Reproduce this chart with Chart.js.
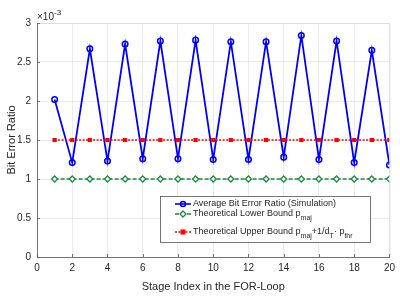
<!DOCTYPE html>
<html>
<head>
<meta charset="utf-8">
<script src="https://cdn.jsdelivr.net/npm/chart.js@4/dist/chart.umd.min.js"></script>
<style>
    html, body { margin: 0; padding: 0; background: #fff; }
    #wrap { width: 400px; height: 300px; }
</style>
</head>
<body>
<div id="wrap"><canvas id="berChart" width="400" height="300"></canvas></div>
<script>
// DATA (values in units of 1e-3)
const stages = [1, 2, 3, 4, 5, 6, 7, 8, 9, 10, 11, 12, 13, 14, 15, 16, 17, 18, 19, 20];
const avgBer = [2.02, 1.21, 2.67, 1.23, 2.73, 1.26, 2.77, 1.26, 2.78, 1.25,
                2.76, 1.25, 2.76, 1.28, 2.84, 1.25, 2.77, 1.21, 2.65, 1.18];
const lowerBound = [1, 1, 1, 1, 1, 1, 1, 1, 1, 1, 1, 1, 1, 1, 1, 1, 1, 1, 1, 1];
const upperBound = [1.5, 1.5, 1.5, 1.5, 1.5, 1.5, 1.5, 1.5, 1.5, 1.5,
                    1.5, 1.5, 1.5, 1.5, 1.5, 1.5, 1.5, 1.5, 1.5, 1.5];
const xTicks = [0, 2, 4, 6, 8, 10, 12, 14, 16, 18, 20];
const yTicks = [0, 0.5, 1, 1.5, 2, 2.5, 3];

const FONT = "'Liberation Sans', Arial, sans-serif";
const TXT = "#262626";
const BLUE = "#0000ff";
const GREEN = "#1c8a3a";
const RED = "#ff0000";

function toXY(vals) {
    return stages.map((s, i) => ({ x: s, y: vals[i] }));
}

// draws text with subscripts, parts = [[text, isSub], ...]
function drawRich(ctx, x, y, parts, size) {
    parts.forEach(p => {
        ctx.font = (p[1] ? size - 2 : size) + "px " + FONT;
        ctx.fillText(p[0], x, p[1] ? y + 4 : y);
        x += ctx.measureText(p[0]).width;
    });
}

// MATLAB style extras: axes, tick marks, exponent, axis titles, legend
const extras = {
    id: "extras",
    afterDraw(chart) {
        const ctx = chart.ctx;
        const a = chart.chartArea;
        const xs = chart.scales.x, ys = chart.scales.y;
        ctx.save();

        // light box on top/right
        ctx.strokeStyle = "#d9d9d9";
        ctx.lineWidth = 0.8;
        ctx.beginPath();
        ctx.moveTo(a.left, a.top + 0.5); ctx.lineTo(a.right + 0.5, a.top + 0.5);
        ctx.lineTo(a.right + 0.5, a.bottom);
        ctx.stroke();

        // dark left/bottom axes
        ctx.strokeStyle = "#555";
        ctx.beginPath();
        ctx.moveTo(a.left + 0.5, a.top); ctx.lineTo(a.left + 0.5, a.bottom + 0.5);
        ctx.lineTo(a.right + 0.5, a.bottom + 0.5);
        // inward tick marks
        xTicks.forEach(v => {
            const px = Math.round(xs.getPixelForValue(v)) + 0.5;
            ctx.moveTo(px, a.bottom); ctx.lineTo(px, a.bottom - 3);
        });
        yTicks.forEach(v => {
            const py = Math.round(ys.getPixelForValue(v)) + 0.5;
            ctx.moveTo(a.left, py); ctx.lineTo(a.left + 3, py);
        });
        ctx.stroke();

        // exponent label
        ctx.fillStyle = TXT;
        ctx.textBaseline = "alphabetic";
        ctx.textAlign = "left";
        ctx.font = "10px " + FONT;
        ctx.fillText("\u00d710", a.left, a.top - 3);
        ctx.font = "8px " + FONT;
        ctx.fillText("-3", a.left + 17, a.top - 8);

        // axis titles
        ctx.font = "11px " + FONT;
        ctx.textAlign = "center";
        ctx.fillText("Stage Index in the FOR-Loop", (a.left + a.right) / 2, 290);
        ctx.save();
        ctx.translate(15, (a.top + a.bottom) / 2);
        ctx.rotate(-Math.PI / 2);
        ctx.fillText("Bit Error Ratio", 0, 0);
        ctx.restore();

        // legend
        const lx = 160, ly = 196, lw = 210, lh = 46;
        ctx.fillStyle = "#fff";
        ctx.fillRect(lx, ly, lw, lh);
        ctx.strokeStyle = "#555";
        ctx.lineWidth = 0.8;
        ctx.strokeRect(lx + 0.5, ly + 0.5, lw, lh);

        const rows = [
            { y: 204, color: BLUE, dash: [], marker: "circle",
              parts: [["Average Bit Error Ratio (Simulation)", false]] },
            { y: 214, color: GREEN, dash: [4, 2], marker: "diamond",
              parts: [["Theoretical Lower Bound p", false], ["maj", true]] },
            { y: 232, color: RED, dash: [2, 1.5], marker: "square",
              parts: [["Theoretical Upper Bound p", false], ["maj", true],
                      ["+1/d", false], ["T", true], ["\u00b7 p", false], ["thr", true]] }
        ];
        rows.forEach(r => {
            ctx.strokeStyle = r.color;
            ctx.lineWidth = r.marker === "circle" ? 1.6 : 1.3;
            ctx.setLineDash(r.dash);
            ctx.beginPath();
            ctx.moveTo(175, r.y);
            ctx.lineTo(191, r.y);
            ctx.stroke();
            ctx.setLineDash([]);
            ctx.beginPath();
            if (r.marker === "circle") {
                ctx.arc(183, r.y, 2.5, 0, Math.PI * 2);
                ctx.stroke();
            } else if (r.marker === "diamond") {
                ctx.moveTo(183, r.y - 3);
                ctx.lineTo(186, r.y);
                ctx.lineTo(183, r.y + 3);
                ctx.lineTo(180, r.y);
                ctx.closePath();
                ctx.fillStyle = "#fff";
                ctx.fill();
                ctx.stroke();
            } else {
                ctx.fillStyle = r.color;
                ctx.fillRect(180.5, r.y - 2.5, 5, 5);
            }
            ctx.fillStyle = TXT;
            ctx.textAlign = "left";
            ctx.textBaseline = "middle";
            drawRich(ctx, 193, r.y, r.parts, 9);
        });
        ctx.restore();
    }
};

const ctx = document.getElementById("berChart").getContext("2d");

new Chart(ctx, {
    type: "line",
    data: {
        datasets: [
            {
                label: "Theoretical Lower Bound",
                data: toXY(lowerBound),
                borderColor: GREEN,
                backgroundColor: "#fff",
                borderWidth: 1.5,
                borderDash: [4, 2],
                pointStyle: "rectRot",
                pointRadius: 3,
                pointBorderWidth: 1.3,
                pointBorderColor: GREEN,
                pointBackgroundColor: "#fff"
            },
            {
                label: "Theoretical Upper Bound",
                data: toXY(upperBound),
                borderColor: RED,
                backgroundColor: RED,
                borderWidth: 1.5,
                borderDash: [2, 1.5],
                pointStyle: "rect",
                pointRadius: 3,
                pointBorderWidth: 0,
                pointBackgroundColor: RED
            },
            {
                label: "Average Bit Error Ratio (Simulation)",
                data: toXY(avgBer),
                borderColor: BLUE,
                backgroundColor: "#fff",
                borderWidth: 1.8,
                pointStyle: "circle",
                pointRadius: 2.8,
                pointBorderWidth: 1.5,
                pointBorderColor: BLUE,
                pointBackgroundColor: "rgba(0,0,0,0)",
                tension: 0
            }
        ]
    },
    options: {
        responsive: false,
        animation: false,
        layout: { padding: { top: 23, right: 9, left: 0, bottom: 0 } },
        plugins: {
            legend: { display: false },
            tooltip: { enabled: false }
        },
        scales: {
            x: {
                type: "linear",
                min: 0,
                max: 20,
                afterBuildTicks: s => { s.ticks = xTicks.map(v => ({ value: v })); },
                afterFit: s => { s.height = 43; },
                grid: { color: "#e6e6e6", lineWidth: 0.8, drawTicks: false },
                border: { display: false },
                ticks: { color: TXT, font: { size: 10, family: FONT }, padding: 5, maxRotation: 0,
                         callback: v => String(v) }
            },
            y: {
                type: "linear",
                min: 0,
                max: 3,
                afterBuildTicks: s => { s.ticks = yTicks.map(v => ({ value: v })); },
                afterFit: s => { s.width = 37; },
                grid: { color: "#e6e6e6", lineWidth: 0.8, drawTicks: false },
                border: { display: false },
                ticks: { color: TXT, font: { size: 10, family: FONT }, padding: 6,
                         callback: v => String(v) }
            }
        }
    },
    plugins: [extras]
});
</script>
</body>
</html>
